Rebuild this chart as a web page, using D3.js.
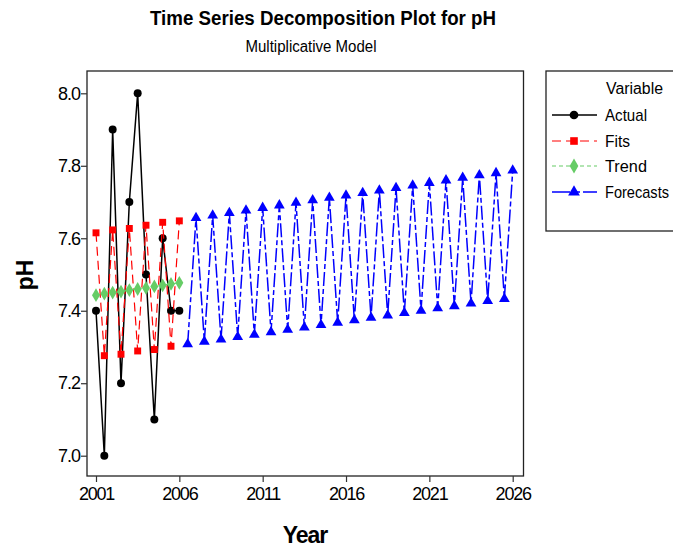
<!DOCTYPE html>
<html>
<head>
<meta charset="utf-8">
<script src="https://cdn.jsdelivr.net/npm/d3@7"></script>
<style>
  body { margin: 0; background: #fff; }
  text { font-family: "Liberation Sans", Arial, sans-serif; }
</style>
</head>
<body>
<div id="chart"></div>
<script>
// Time index (half-year steps), tick labels every 10 steps
const tickIndex = [1, 11, 21, 31, 41, 51];
const tickLabels = ['2001', '2006', '2011', '2016', '2021', '2026'];
const yTicks = [7.0, 7.2, 7.4, 7.6, 7.8, 8.0];

const actual = [7.4, 7.0, 7.9, 7.2, 7.7, 8.0, 7.5, 7.1, 7.6, 7.4, 7.4];
const fits = [7.615, 7.276, 7.623, 7.280, 7.627, 7.289, 7.636, 7.293, 7.644, 7.302, 7.648];
const trend = [7.443, 7.447, 7.450, 7.453, 7.457, 7.460, 7.463, 7.467, 7.470, 7.474, 7.477];
// forecasts start at index 12
const forecasts = [7.308, 7.656, 7.315, 7.663, 7.321, 7.670, 7.328, 7.677, 7.334, 7.684,
                   7.341, 7.691, 7.348, 7.698, 7.354, 7.705, 7.361, 7.712, 7.367, 7.718,
                   7.374, 7.725, 7.381, 7.732, 7.387, 7.739, 7.394, 7.746, 7.400, 7.753,
                   7.407, 7.760, 7.413, 7.767, 7.420, 7.774, 7.427, 7.780, 7.433, 7.787];

const svg = d3.select('#chart').append('svg')
    .attr('width', 673)
    .attr('height', 548);

const x = d3.scaleLinear().domain([1, 51]).range([96, 512.7]);
const y = d3.scaleLinear().domain([7.0, 8.0]).range([455.7, 93.3]);

const frame = {left: 87, right: 523.5, top: 71, bottom: 476};

// Titles
svg.append('text')
    .attr('x', 323).attr('y', 25)
    .attr('text-anchor', 'middle')
    .attr('textLength', 346).attr('lengthAdjust', 'spacingAndGlyphs')
    .style('font-size', '20px').style('font-weight', 'bold')
    .text('Time Series Decomposition Plot for pH');

svg.append('text')
    .attr('x', 311).attr('y', 52)
    .attr('text-anchor', 'middle')
    .attr('textLength', 131).attr('lengthAdjust', 'spacingAndGlyphs')
    .style('font-size', '16px')
    .text('Multiplicative Model');

// Frame
svg.append('rect')
    .attr('x', frame.left).attr('y', frame.top)
    .attr('width', frame.right - frame.left).attr('height', frame.bottom - frame.top)
    .attr('fill', 'none').attr('stroke', '#222').attr('stroke-width', 1.3);

// Y axis
const yAxis = svg.append('g')
    .attr('transform', `translate(${frame.left},0)`)
    .call(d3.axisLeft(y).tickValues(yTicks).tickFormat(d3.format('.1f')).tickSize(6).tickPadding(1));
yAxis.select('.domain').remove();
yAxis.selectAll('line').attr('stroke', '#333').attr('stroke-width', 1.2);
yAxis.selectAll('text')
    .style('font-size', '18px').style('font-family', '"Liberation Sans", Arial, sans-serif')
    .attr('fill', '#000').attr('letter-spacing', '-1px');

// X axis
const xAxis = svg.append('g')
    .attr('transform', `translate(0,${frame.bottom})`)
    .call(d3.axisBottom(x).tickValues(tickIndex).tickFormat((d, i) => tickLabels[i]).tickSize(6).tickPadding(5));
xAxis.select('.domain').remove();
xAxis.selectAll('line').attr('stroke', '#333').attr('stroke-width', 1.2);
xAxis.selectAll('text')
    .style('font-size', '18px').style('font-family', '"Liberation Sans", Arial, sans-serif')
    .attr('fill', '#000').attr('letter-spacing', '-1.2px');

// Axis titles
svg.append('text')
    .attr('x', 305).attr('y', 543)
    .attr('text-anchor', 'middle')
    .style('font-size', '23px').style('font-weight', 'bold')
    .attr('letter-spacing', '-1px')
    .text('Year');

svg.append('text')
    .attr('transform', 'translate(33,275) rotate(-90)')
    .attr('text-anchor', 'middle')
    .style('font-size', '23px').style('font-weight', 'bold')
    .text('pH');

// Series
const series = [
  {name: 'Actual', values: actual.map((v, i) => [i + 1, v]), color: '#000', dash: null, width: 1.5, shape: d3.symbolCircle, size: 50},
  {name: 'Fits', values: fits.map((v, i) => [i + 1, v]), color: '#ff0000', dash: '9,5', width: 1.2, shape: d3.symbolSquare, size: 48},
  {name: 'Trend', values: trend.map((v, i) => [i + 1, v]), color: '#66cc66', dash: '4,3', width: 1.2, shape: d3.symbolDiamond, size: 55},
  {name: 'Forecasts', values: forecasts.map((v, i) => [i + 12, v]), color: '#0000ff', dash: '14,3,5,3', width: 1.5, shape: d3.symbolTriangle, size: 50}
];

const line = d3.line().x(d => x(d[0])).y(d => y(d[1]));

series.forEach(s => {
  svg.append('path')
      .datum(s.values)
      .attr('d', line)
      .attr('fill', 'none')
      .attr('stroke', s.color)
      .attr('stroke-width', s.width)
      .attr('stroke-dasharray', s.dash);
  svg.append('g').selectAll('path')
      .data(s.values)
      .join('path')
        .attr('transform', d => `translate(${x(d[0])},${y(d[1])})`)
        .attr('d', d3.symbol().type(s.shape).size(s.size))
        .attr('fill', s.color);
});

// Legend
const legend = svg.append('g');
legend.append('rect')
    .attr('x', 546).attr('y', 71)
    .attr('width', 140).attr('height', 160)
    .attr('fill', 'none').attr('stroke', '#222').attr('stroke-width', 1.3);

legend.append('text')
    .attr('x', 606).attr('y', 94)
    .attr('textLength', 57).attr('lengthAdjust', 'spacingAndGlyphs')
    .style('font-size', '16px')
    .text('Variable');

const legendY = [115, 141, 166, 192];
const legendW = [42, 25, 42, 64];
series.forEach((s, i) => {
  const ly = legendY[i];
  legend.append('line')
      .attr('x1', 552).attr('x2', 597)
      .attr('y1', ly).attr('y2', ly)
      .attr('stroke', s.color)
      .attr('stroke-width', s.width)
      .attr('stroke-dasharray', s.dash === null ? null : (s.name === 'Forecasts' ? '18,4,6,3' : s.dash));
  legend.append('path')
      .attr('transform', `translate(574,${ly})`)
      .attr('d', d3.symbol().type(s.shape).size(s.size + 10))
      .attr('fill', s.color);
  legend.append('text')
      .attr('x', 605).attr('y', ly + 6)
      .attr('textLength', legendW[i]).attr('lengthAdjust', 'spacingAndGlyphs')
      .style('font-size', '17px')
      .text(s.name);
});
</script>
</body>
</html>
